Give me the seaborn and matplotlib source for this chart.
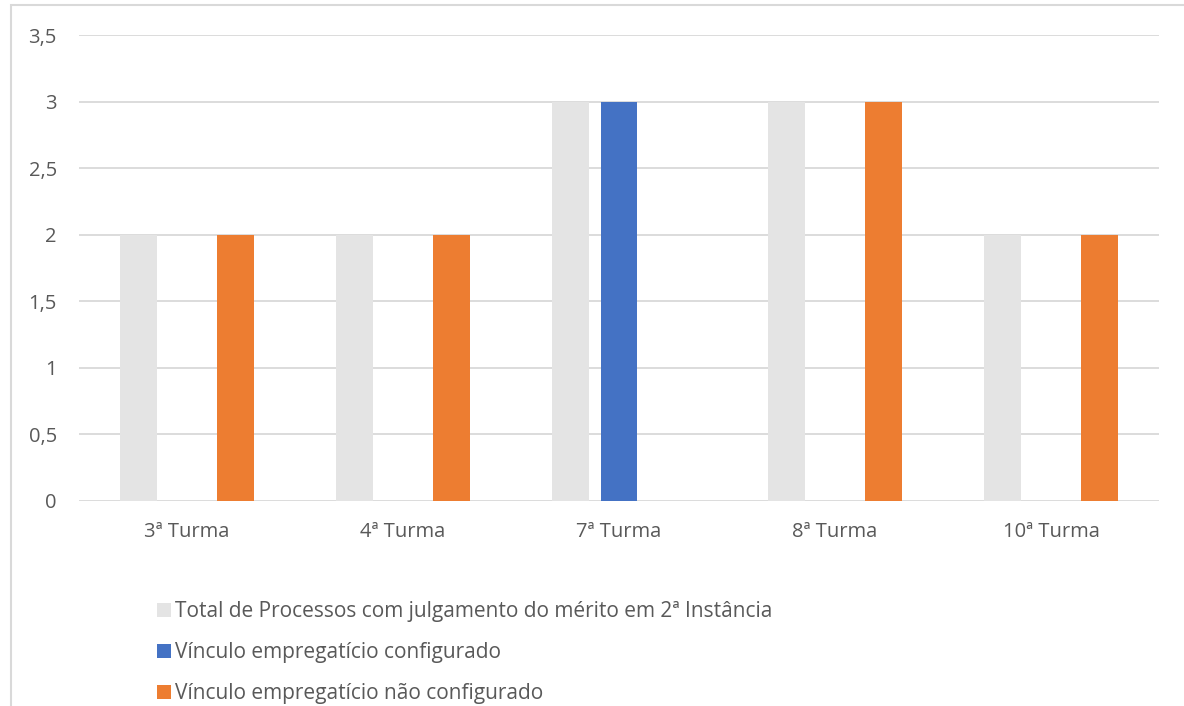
import matplotlib
matplotlib.use("Agg")
import matplotlib.pyplot as plt
from matplotlib.patches import Rectangle
from matplotlib.ticker import FuncFormatter, MultipleLocator
import numpy as np
import pandas as pd
import seaborn as sns

turmas = ["3ª Turma", "4ª Turma", "7ª Turma", "8ª Turma", "10ª Turma"]
series_names = [
    "Total de Processos com julgamento do mérito em 2ª Instância",
    "Vínculo empregatício configurado",
    "Vínculo empregatício não configurado",
]
total = [2, 2, 3, 3, 2]
configurado = [0, 0, 3, 0, 0]
nao_configurado = [2, 2, 0, 3, 2]
colors = ["#E4E4E4", "#4472C4", "#ED7D31"]

df = pd.DataFrame({
    "Turma": turmas * 3,
    "Série": [series_names[0]] * 5 + [series_names[1]] * 5 + [series_names[2]] * 5,
    "Valor": total + configurado + nao_configurado,
})

sns.set_theme(style="white")
plt.rcParams["font.family"] = ["Open Sans", "DejaVu Sans"]
text_color = "#595959"
grid_color = "#D9D9D9"
fs = 14.5

W, H = 1184, 706
fig = plt.figure(figsize=(W / 100, H / 100), dpi=100)
fig.patch.set_facecolor("white")

# chart frame
fig.patches.append(Rectangle((10.5 / W, -0.05), 2.0, 1.05 - 5.5 / H,
                             transform=fig.transFigure, fill=False,
                             edgecolor=grid_color, linewidth=1.5))

ax = fig.add_axes([79 / W, 1 - 501 / H, (1159 - 79) / W, (501 - 35) / H])
sns.barplot(data=df, x="Turma", y="Valor", hue="Série", order=turmas,
            hue_order=series_names, palette=colors, width=0.667, gap=0.23,
            saturation=1, ax=ax, legend=True, zorder=3, linewidth=0)

ax.set_ylim(0, 3.5)
ax.set_xlim(-0.5, 4.5)
ax.yaxis.set_major_locator(MultipleLocator(0.5))
ax.yaxis.set_major_formatter(FuncFormatter(lambda v, p: f"{v:g}".replace(".", ",")))
ax.grid(axis="y", color=grid_color, linewidth=1.3, zorder=0)
ax.set_axisbelow(True)
for s in ax.spines.values():
    s.set_visible(False)
ax.set_xlabel("")
ax.set_ylabel("")
ax.tick_params(axis="both", length=0, labelsize=fs, colors=text_color)
ax.tick_params(axis="y", pad=16)
ax.tick_params(axis="x", pad=15)

handles, labels = ax.get_legend_handles_labels()
ax.legend_.remove()
leg = fig.legend(handles, labels, loc="upper left",
                 bbox_to_anchor=(147 / W, 1 - 591 / H), frameon=False,
                 fontsize=15, handlelength=0.66, handleheight=0.66,
                 handletextpad=0.2, labelspacing=0.95, borderpad=0)
for t in leg.get_texts():
    t.set_color(text_color)

fig.savefig("out.png", dpi=100, facecolor="white")
